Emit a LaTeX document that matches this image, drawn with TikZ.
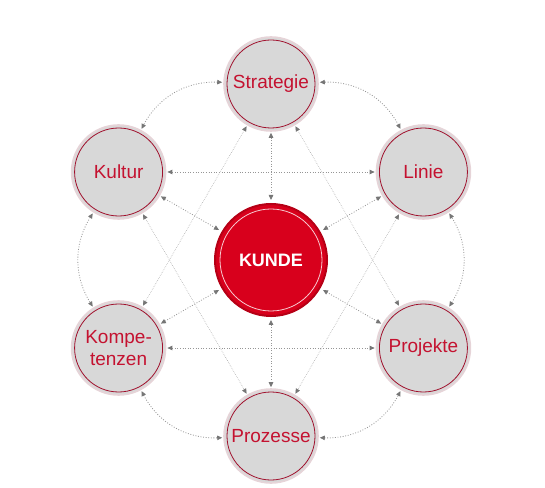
\documentclass[tikz,border=0pt]{standalone}
\usepackage{fontspec}
\setmainfont{Liberation Sans}
\usetikzlibrary{arrows.meta}
\definecolor{kundenrot}{RGB}{216,0,28}
\definecolor{kundenrand}{RGB}{182,0,22}
\definecolor{feldgrau}{RGB}{216,216,216}
\definecolor{feldrand}{RGB}{230,212,216}
\definecolor{feldlinie}{RGB}{160,16,44}
\definecolor{schrift}{RGB}{196,18,48}
\definecolor{liniengrau}{RGB}{150,150,150}
\definecolor{spitzengrau}{RGB}{118,118,118}

\begin{document}
\begin{tikzpicture}[x=1pt, y=1pt,
  feld/.style={circle, minimum size=94pt, inner sep=0pt, fill=feldgrau, draw=feldrand, line width=1.6pt,
    text=schrift, align=center, font=\fontsize{19}{22}\selectfont,
    path picture={\draw[feldlinie, line width=0.8pt] (path picture bounding box.center) circle (44pt);}},
  kunde/.style={circle, minimum size=112pt, inner sep=0pt, fill=kundenrot, draw=kundenrand, line width=2pt,
    text=white, font=\fontsize{18}{22}\selectfont\bfseries,
    path picture={\draw[white!80!kundenrot, line width=0.8pt] (path picture bounding box.center) circle (51pt);}},
  pfeil/.style={liniengrau, line width=0.8pt, dash pattern=on 0.9pt off 1.7pt,
    {Triangle[length=5pt, width=4.5pt, color=spitzengrau]}-{Triangle[length=5pt, width=4.5pt, color=spitzengrau]},
    shorten <=1pt, shorten >=1pt},
  fein/.style={pfeil, liniengrau!80, line width=0.6pt, dash pattern=on 0.6pt off 1.2pt}]
\useasboundingbox (0,0) rectangle (545,487);

\node[kunde] (kunde) at (271,227) {KUNDE};
\foreach \w/\n/\t in {90/strategie/Strategie, 30/linie/Linie, -30/projekte/Projekte,
  -90/prozesse/Prozesse, 210/kompetenzen/{Kompe-\\tenzen}, 150/kultur/Kultur}
  \node[feld] (\n) at ([shift={(\w:176)}]kunde) {\t};

\foreach \n in {strategie,linie,projekte,prozesse,kompetenzen,kultur}
  \draw[pfeil, shorten >=3pt] (\n) -- (kunde);
\foreach \a/\b in {strategie/kultur, kultur/kompetenzen, kompetenzen/prozesse,
  prozesse/projekte, projekte/linie, linie/strategie}
  \draw[pfeil] (\a) to[bend right=32] (\b);
\draw[pfeil] (kultur) -- (linie);
\draw[pfeil] (kompetenzen) -- (projekte);
\foreach \a/\b in {strategie/kompetenzen, strategie/projekte, kultur/prozesse, linie/prozesse}
  \draw[fein] (\a) -- (\b);
\end{tikzpicture}
\end{document}
